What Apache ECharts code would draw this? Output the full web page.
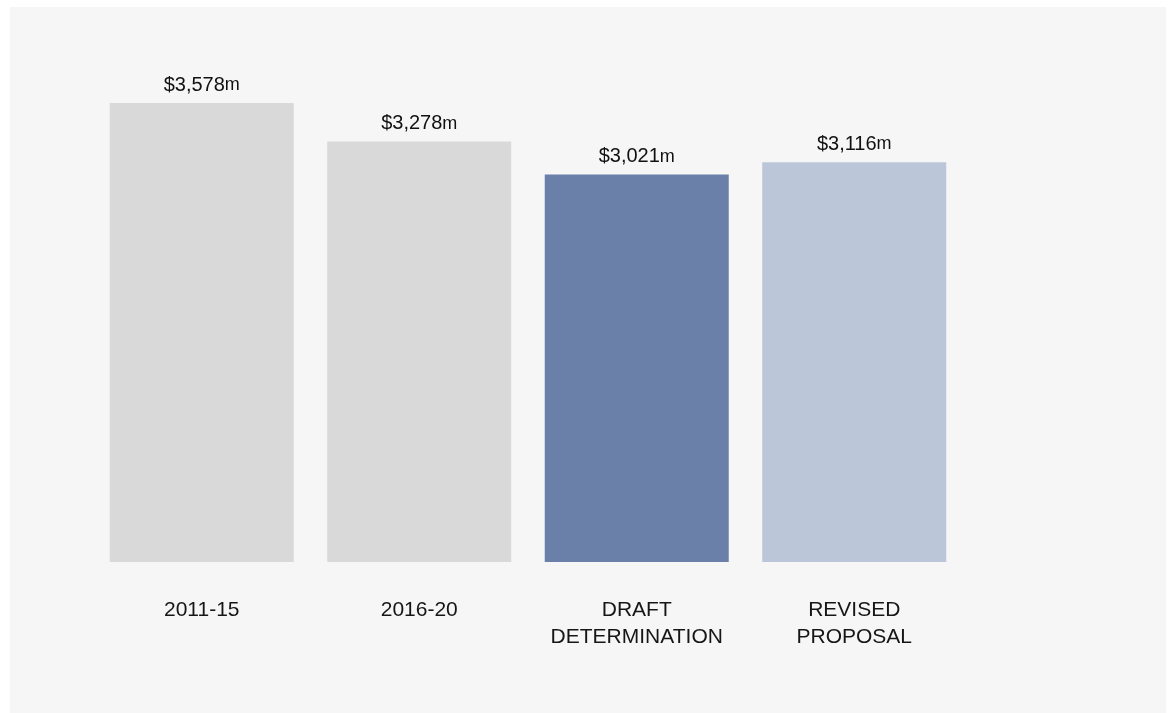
<!DOCTYPE html>
<html>
<head>
<meta charset="utf-8">
<script src="https://cdn.jsdelivr.net/npm/echarts@6/dist/echarts.min.js"></script>
<style>
  html, body { margin: 0; padding: 0; background: #ffffff; }
  #chart { width: 1171px; height: 713px; }
</style>
</head>
<body>
<div id="chart"></div>
<script>
// Categories and spending values ($ millions)
const categories = ['2011-15', '2016-20', 'DRAFT\nDETERMINATION', 'REVISED\nPROPOSAL'];
const values = [3578, 3278, 3021, 3116];
const barColors = ['#d9d9d9', '#d9d9d9', '#6b80a9', '#bcc6d9'];

const chart = echarts.init(document.getElementById('chart'));

const fmt = (v) => v.toLocaleString('en-US');
const FONT = 'Liberation Sans, Arial, Helvetica, sans-serif';

chart.setOption({
  backgroundColor: '#ffffff',
  animation: false,
  graphic: [{
    type: 'rect',
    z: -10,
    silent: true,
    shape: { x: 10, y: 7, width: 1156, height: 706 },
    style: { fill: '#f6f6f6' }
  }],
  grid: { left: 93, width: 870, top: 49, bottom: 151, containLabel: false },
  xAxis: {
    type: 'category',
    data: categories,
    axisLine: { show: false },
    axisTick: { show: false },
    axisLabel: {
      interval: 0,
      hideOverlap: false,
      margin: 35,
      verticalAlign: 'top',
      color: '#161616',
      fontFamily: FONT,
      fontSize: 21,
      lineHeight: 27,
      align: 'center'
    }
  },
  yAxis: {
    type: 'value',
    min: 0,
    max: 4000,
    show: false,
    splitLine: { show: false }
  },
  series: [{
    type: 'bar',
    barWidth: '84.6%',
    data: values.map((v, i) => ({ value: v, itemStyle: { color: barColors[i] } })),
    label: {
      show: true,
      position: 'top',
      distance: 8,
      formatter: (p) => '{v|$' + fmt(p.value) + '}{m|m}',
      rich: {
        v: { fontSize: 20, color: '#111111', fontFamily: FONT },
        m: { fontSize: 18, color: '#111111', fontFamily: FONT }
      }
    }
  }]
});
</script>
</body>
</html>
